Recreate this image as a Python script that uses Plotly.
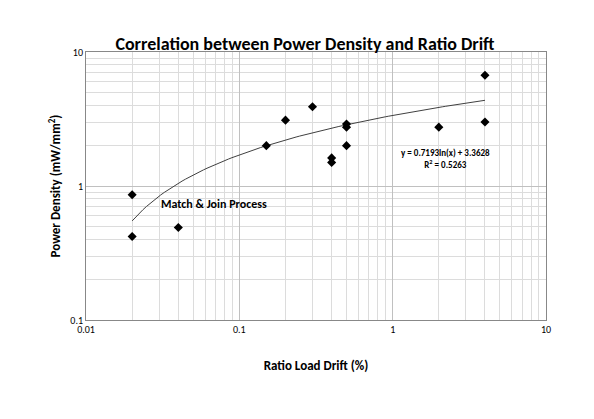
import numpy as np
import plotly.graph_objects as go

x_vals = [0.02, 0.02, 0.04, 0.15, 0.2, 0.3, 0.4, 0.4, 0.5, 0.5, 0.5, 2, 4, 4]
y_vals = [0.86, 0.42, 0.49, 2.0, 3.1, 3.9, 1.62, 1.5, 2.9, 2.75, 2.0, 2.75, 6.7, 3.0]
fit_a, fit_b = 0.7193, 3.3628

xf = np.logspace(np.log10(0.02), np.log10(4), 100)
yf = fit_a * np.log(xf) + fit_b

def minor_vals(lo, hi):
    return [m * 10.0 ** e for e in range(lo, hi) for m in range(2, 10)]

fig = go.Figure()
fig.add_trace(go.Scatter(x=xf, y=yf, mode="lines", line=dict(color="#404040", width=1)))
fig.add_trace(go.Scatter(x=x_vals, y=y_vals, mode="markers",
                         marker=dict(symbol="diamond", size=7, color="black")))
font = "Calibri, Liberation Sans, Arial"
ax = dict(type="log", showline=True, linecolor="#888", mirror=True,
          gridcolor="#c0c0c0", ticks="", tickfont=dict(size=10, color="black", family=font),
          zeroline=False)
fig.update_layout(
    width=594, height=419, paper_bgcolor="white", plot_bgcolor="white",
    margin=dict(l=78, r=56, t=44, b=107), showlegend=False,
    title=dict(text="<b>Correlation between Power Density and Ratio Drift</b>",
               x=0.5, y=0.93, xanchor="center", font=dict(size=18, color="black", family=font)),
    xaxis=dict(ax, range=[-2, 1], tickvals=[0.01, 0.1, 1, 10], ticktext=["0.01", "0.1", "1", "10"],
               minor=dict(tickvals=minor_vals(-2, 1), showgrid=True, gridcolor="#dcdcdc", ticks=""),
               title=dict(text="<b>Ratio Load Drift (%)</b>", font=dict(size=13, color="black", family=font), standoff=25)),
    yaxis=dict(ax, range=[-1, 1], tickvals=[0.1, 1, 10], ticktext=["0.1", "1", "10"],
               minor=dict(tickvals=minor_vals(-1, 1), showgrid=True, gridcolor="#dcdcdc", ticks=""),
               title=dict(text="<b>Power Density (mW/mm<sup>2</sup>)</b>", font=dict(size=13, color="black", family=font), standoff=6)),
    annotations=[
        dict(x=np.log10(1.1), y=np.log10(1.6), text="<b>y = 0.7193ln(x) + 3.3628<br>R<sup>2</sup> = 0.5263</b>",
             showarrow=False, xanchor="left", align="center", font=dict(size=9, color="black", family=font)),
        dict(x=np.log10(0.03), y=np.log10(0.74), text="<b>Match & Join Process</b>",
             showarrow=False, xanchor="left", font=dict(size=12, color="black", family=font)),
    ],
)
fig.write_html("out.html")
